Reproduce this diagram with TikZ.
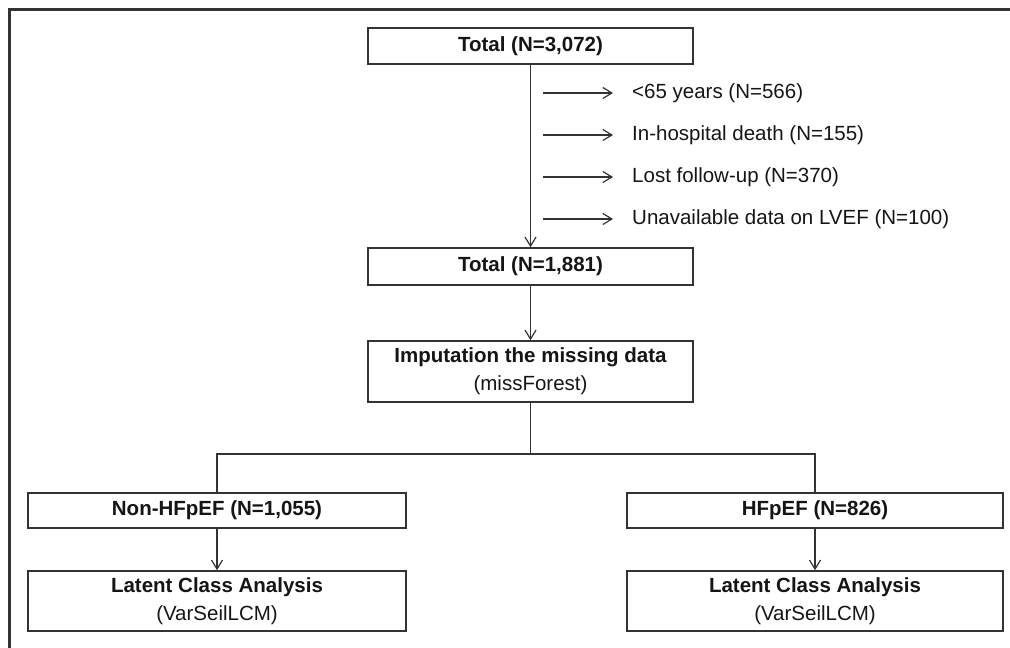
\documentclass[tikz,border=0pt]{standalone}
\usepackage{fontspec}
\setmainfont{Liberation Sans}
\usetikzlibrary{arrows.meta}
\definecolor{ln}{HTML}{333333}
\definecolor{tx}{HTML}{151515}
\tikzset{
  box/.style={draw=ln, line width=1.6pt, inner sep=0pt, align=center, text=tx,
    font=\fontsize{20.5}{28}\selectfont},
  conn/.style={draw=ln, line width=1.3pt},
  arr/.style={conn, -{Straight Barb[length=9pt,width=11pt,line width=1.2pt]}},
  excl/.style={anchor=west, inner xsep=10pt, inner ysep=0pt, text=tx,
    font=\fontsize{20.5}{24}\selectfont},
  frame/.style={draw=ln, line width=3pt}
}
\begin{document}
\begin{tikzpicture}[x=1pt,y=-1pt]
\useasboundingbox (0,0) rectangle (1010,648);
\draw[frame] (9,648) -- (9,9) -- (1010,9);

\node[box, minimum width=325pt, minimum height=36pt] (t1) at (530.5,46) {\bfseries Total (N=3,072)};
\node[box, minimum width=325pt, minimum height=37pt] (t2) at (530.5,266.5) {\bfseries Total (N=1,881)};
\node[box, minimum width=325pt, minimum height=61pt] (imp) at (530.5,371.5) {\bfseries Imputation the missing data\\(missForest)};
\node[box, minimum width=378pt, minimum height=35pt] (non) at (217,510.5) {\bfseries Non-HFpEF (N=1,055)};
\node[box, minimum width=376pt, minimum height=35pt] (hf) at (815,510.5) {\bfseries HFpEF (N=826)};
\node[box, minimum width=378pt, minimum height=60pt] (lca1) at (217,601) {\bfseries Latent Class Analysis\\(VarSeilLCM)};
\node[box, minimum width=376pt, minimum height=60pt] (lca2) at (815,601) {\bfseries Latent Class Analysis\\(VarSeilLCM)};

\node[excl] (e1) at (622,93) {<65 years (N=566)};
\node[excl] (e2) at (622,135) {In-hospital death (N=155)};
\node[excl] (e3) at (622,177) {Lost follow-up (N=370)};
\node[excl] (e4) at (622,219) {Unavailable data on LVEF (N=100)};

\coordinate (s1) at (543,93);
\coordinate (s2) at (543,135);
\coordinate (s3) at (543,177);
\coordinate (s4) at (543,219);
\coordinate (br) at (530.5,454);

\draw[arr] (t1.south) -- (t2.north);
\draw[arr] (t2.south) -- (imp.north);
\draw[arr] (s1) -- ([xshift=-9pt]e1.west);
\draw[arr] (s2) -- ([xshift=-9pt]e2.west);
\draw[arr] (s3) -- ([xshift=-9pt]e3.west);
\draw[arr] (s4) -- ([xshift=-9pt]e4.west);
\draw[conn] (imp.south) -- (br);
\draw[conn] (br) -| (non.north);
\draw[conn] (br) -| (hf.north);
\draw[arr] (non.south) -- (lca1.north);
\draw[arr] (hf.south) -- (lca2.north);
\end{tikzpicture}
\end{document}
